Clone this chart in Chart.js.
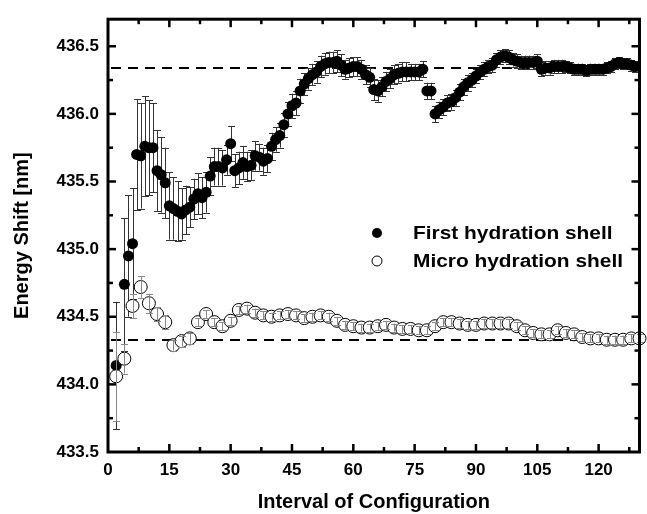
<!DOCTYPE html>
<html><head><meta charset="utf-8">
<script src="https://cdn.jsdelivr.net/npm/chart.js@4.4.1/dist/chart.umd.min.js"></script>
<style>html,body{margin:0;padding:0;background:#fff;}#wrap{width:647px;height:514px;position:relative;}</style>
</head><body><div id="wrap"><canvas id="c" width="647" height="514"></canvas></div>
<script>
const FONT = '"Liberation Sans", Arial, Helvetica, sans-serif';

// First hydration shell: configurations 2..129 (step 1)
const firstStart = 2;
const firstValues = [
  434.14, null, 434.74, 434.95, 435.04, 435.70, 435.69, 435.76, 435.75, 435.75,
  435.58, 435.55, 435.49, 435.32, 435.30, 435.28, 435.26, 435.29, 435.31, 435.37,
  435.41, 435.38, 435.42, 435.54, 435.61, 435.61, 435.60, 435.66, 435.78, 435.58,
  435.60, 435.64, 435.61, 435.62, 435.69, 435.68, 435.65, 435.67, 435.76, 435.81,
  435.84, 435.92, 436.00, 436.06, 436.08, 436.17, 436.22, 436.26, 436.29, 436.31,
  436.35, 436.37, 436.38, 436.38, 436.39, 436.36, 436.33, 436.34, 436.35, 436.35,
  436.33, 436.29, 436.27, 436.18, 436.17, 436.20, 436.24, 436.26, 436.29, 436.30,
  436.31, 436.31, 436.31, 436.31, 436.31, 436.33, 436.17, 436.17, 436.00, 436.03,
  436.05, 436.08, 436.09, 436.12, 436.16, 436.20, 436.23, 436.25, 436.28, 436.31,
  436.33, 436.35, 436.36, 436.40, 436.42, 436.43, 436.42, 436.40, 436.39, 436.38,
  436.38, 436.38, 436.38, 436.39, 436.33, 436.34, 436.34, 436.35, 436.35, 436.35,
  436.35, 436.34, 436.33, 436.33, 436.33, 436.32, 436.33, 436.33, 436.33, 436.33,
  436.34, 436.35, 436.37, 436.38, 436.37, 436.37, 436.36, 436.35
];
const firstErrors = [
  0.47, null, 0.49, 0.45, 0.41, 0.41, 0.39, 0.37, 0.35, 0.33,
  0.30, 0.28, 0.26, 0.25, 0.23, 0.22, 0.19, 0.18, 0.15, 0.15,
  0.15, 0.15, 0.15, 0.14, 0.14, 0.14, 0.13, 0.11, 0.13, 0.12,
  0.12, 0.12, 0.11, 0.11, 0.11, 0.10, 0.10, 0.10, 0.10, 0.09,
  0.09, 0.09, 0.09, 0.09, 0.09, 0.09, 0.08, 0.08, 0.08, 0.08,
  0.08, 0.08, 0.08, 0.08, 0.08, 0.08, 0.07, 0.07, 0.07, 0.07,
  0.07, 0.07, 0.07, 0.08, 0.08, 0.07, 0.07, 0.07, 0.07, 0.07,
  0.07, 0.07, 0.06, 0.06, 0.06, 0.06, 0.06, 0.06, 0.06, 0.06,
  0.06, 0.06, 0.06, 0.06, 0.06, 0.06, 0.06, 0.05, 0.05, 0.05,
  0.05, 0.05, 0.05, 0.05, 0.05, 0.05, 0.05, 0.05, 0.05, 0.05,
  0.05, 0.05, 0.05, 0.05, 0.05, 0.05, 0.05, 0.05, 0.05, 0.05,
  0.04, 0.04, 0.04, 0.04, 0.04, 0.04, 0.04, 0.04, 0.04, 0.04,
  0.04, 0.04, 0.04, 0.04, 0.04, 0.04, 0.04, 0.04
];

// Micro hydration shell: configurations 2..130 (step 2)
const microStart = 2;
const microStep = 2;
const microValues = [
  434.06, 434.19, 434.58, 434.72, 434.60, 434.52, 434.46, 434.29, 434.32, 434.34,
  434.46, 434.52, 434.46, 434.43, 434.47, 434.55, 434.56, 434.53, 434.51, 434.50,
  434.51, 434.52, 434.51, 434.49, 434.50, 434.51, 434.50, 434.47, 434.44, 434.43,
  434.42, 434.42, 434.43, 434.44, 434.42, 434.41, 434.41, 434.40, 434.40, 434.43,
  434.46, 434.46, 434.45, 434.44, 434.44, 434.45, 434.45, 434.45, 434.45, 434.43,
  434.40, 434.38, 434.37, 434.37, 434.40, 434.38, 434.37, 434.35, 434.34, 434.34,
  434.33, 434.33, 434.33, 434.34, 434.34
];
const microErrors = [
  0.33, 0.11, 0.09, 0.08, 0.07, 0.05, 0.05, 0.04, 0.04, 0.04,
  0.03, 0.03, 0.03, 0.03, 0.03, 0.03, 0.03, 0.03, 0.03, 0.03,
  0.03, 0.03, 0.03, 0.03, 0.03, 0.03, 0.03, 0.03, 0.03, 0.03,
  0.03, 0.03, 0.03, 0.03, 0.03, 0.03, 0.03, 0.03, 0.03, 0.03,
  0.03, 0.03, 0.03, 0.03, 0.03, 0.03, 0.03, 0.03, 0.03, 0.03,
  0.03, 0.03, 0.03, 0.03, 0.03, 0.03, 0.03, 0.03, 0.03, 0.03,
  0.03, 0.03, 0.03, 0.03, 0.03
];

const referenceLines = [436.34, 434.33];
const seriesNames = ['First hydration shell', 'Micro hydration shell'];
const xTitle = 'Interval of Configuration';
const yTitle = 'Energy Shift [nm]';
const xRange = [0, 130];
const yRange = [433.5, 436.7];
const xMajor = 15, xMinor = 7.5;
const yMajor = 0.5, yMinor = 0.25;

function toPoints(start, step, vals, errs) {
  const out = [];
  vals.forEach((v, i) => { if (v !== null) out.push({ x: start + i * step, y: v, e: errs[i] }); });
  return out;
}

function drawBars(chart, dsIndex, color) {
  const { ctx, scales: { x, y } } = chart;
  const ds = chart.data.datasets[dsIndex];
  ctx.save();
  ctx.strokeStyle = color;
  ctx.lineWidth = 1;
  ds.data.forEach(p => {
    if (p.e == null) return;
    const px = Math.round(x.getPixelForValue(p.x)) + 0.5;
    const y1 = y.getPixelForValue(p.y + p.e);
    const y2 = y.getPixelForValue(p.y - p.e);
    ctx.beginPath();
    ctx.moveTo(px, y1); ctx.lineTo(px, y2);
    ctx.moveTo(px - 3.5, Math.round(y1) + 0.5); ctx.lineTo(px + 3.5, Math.round(y1) + 0.5);
    ctx.moveTo(px - 3.5, Math.round(y2) + 0.5); ctx.lineTo(px + 3.5, Math.round(y2) + 0.5);
    ctx.stroke();
  });
  ctx.restore();
}

const errorBars = {
  id: 'errorBars',
  beforeDatasetDraw(chart, args) { if (args.index === 0) drawBars(chart, 0, '#333'); },
  afterDatasetDraw(chart, args) { if (args.index === 1) drawBars(chart, 1, '#888'); }
};

const refLines = {
  id: 'refLines',
  beforeDatasetsDraw(chart) {
    const { ctx, chartArea: a, scales: { y } } = chart;
    ctx.save();
    ctx.strokeStyle = '#000';
    ctx.lineWidth = 2;
    ctx.setLineDash([10, 7]);
    referenceLines.forEach(v => {
      const py = Math.round(y.getPixelForValue(v));
      ctx.beginPath(); ctx.moveTo(a.left + 3, py); ctx.lineTo(a.right, py); ctx.stroke();
    });
    ctx.restore();
  }
};

const frame = {
  id: 'frame',
  afterDraw(chart) {
    const { ctx, chartArea: a, scales: { x, y } } = chart;
    ctx.save();
    ctx.strokeStyle = '#000';
    ctx.lineWidth = 3;
    ctx.strokeRect(a.left, a.top, a.right - a.left, a.bottom - a.top);
    ctx.lineWidth = 2.5;
    const line = (x1, y1, x2, y2) => { ctx.beginPath(); ctx.moveTo(x1, y1); ctx.lineTo(x2, y2); ctx.stroke(); };
    for (let v = xRange[0] + xMinor; v < xRange[1]; v += xMinor) {
      const px = x.getPixelForValue(v);
      const L = (Math.abs(v / xMajor - Math.round(v / xMajor)) < 1e-6) ? 8 : 5;
      line(px, a.bottom, px, a.bottom - L);
      line(px, a.top, px, a.top + L);
    }
    for (let v = yRange[0] + yMinor; v < yRange[1]; v += yMinor) {
      const py = y.getPixelForValue(v);
      const L = (Math.abs((v - yRange[0]) / yMajor - Math.round((v - yRange[0]) / yMajor)) < 1e-6) ? 8 : 5;
      line(a.left, py, a.left + L, py);
      line(a.right, py, a.right - L, py);
    }
    ctx.restore();
  }
};

function stretchedText(ctx, text, x, y, sx) {
  ctx.save();
  ctx.translate(x, y);
  ctx.scale(sx, 1);
  ctx.fillText(text, 0, 0);
  ctx.restore();
}

const legendBox = {
  id: 'legendBox',
  afterDraw(chart) {
    const { ctx } = chart;
    ctx.save();
    ctx.font = 'bold 18px ' + FONT;
    ctx.fillStyle = '#000';
    ctx.textBaseline = 'middle';
    ctx.textAlign = 'left';
    ctx.beginPath(); ctx.arc(377, 233, 5, 0, Math.PI * 2); ctx.fill();
    stretchedText(ctx, seriesNames[0], 413, 234, 1.16);
    ctx.beginPath(); ctx.arc(377, 261, 5, 0, Math.PI * 2);
    ctx.fillStyle = '#fff'; ctx.fill(); ctx.strokeStyle = '#000'; ctx.lineWidth = 1; ctx.stroke();
    ctx.fillStyle = '#000';
    stretchedText(ctx, seriesNames[1], 413, 262, 1.16);
    ctx.restore();
  }
};

const tickFont = { family: FONT, size: 17, weight: 'bold' };
const titleFont = { family: FONT, size: 20, weight: 'bold' };

new Chart(document.getElementById('c'), {
  type: 'scatter',
  data: {
    datasets: [
      { label: seriesNames[0], data: toPoints(firstStart, 1, firstValues, firstErrors),
        pointRadius: 5.5, pointBackgroundColor: '#000', pointBorderWidth: 0, order: 1, clip: false },
      { label: seriesNames[1], data: toPoints(microStart, microStep, microValues, microErrors),
        pointRadius: 6.5, pointBackgroundColor: '#fff', pointBorderColor: '#000', pointBorderWidth: 1, order: 0, clip: false }
    ]
  },
  options: {
    responsive: false,
    animation: false,
    layout: { padding: { left: 0, right: 6, top: 16, bottom: 0 } },
    plugins: { legend: { display: false }, tooltip: { enabled: false } },
    scales: {
      x: {
        type: 'linear', min: xRange[0], max: xRange[1],
        grid: { display: false, drawTicks: false }, border: { display: false },
        ticks: { stepSize: xMajor, includeBounds: false, font: tickFont, color: '#000', padding: 8, maxRotation: 0 },
        title: { display: true, text: xTitle, font: titleFont, color: '#000', padding: { top: 0, bottom: 0 } },
        afterFit(s) { s.height = 62; }
      },
      y: {
        type: 'linear', min: yRange[0], max: yRange[1],
        grid: { display: false, drawTicks: false }, border: { display: false },
        ticks: { stepSize: yMajor, includeBounds: false, font: tickFont, color: '#000', padding: 9,
                 callback: v => Number(v).toFixed(1) },
        title: { display: true, text: yTitle, font: titleFont, color: '#000', padding: { top: 10, bottom: 0 } },
        afterFit(s) { s.width = 108; }
      }
    }
  },
  plugins: [refLines, errorBars, frame, legendBox]
});
</script>
</body></html>
